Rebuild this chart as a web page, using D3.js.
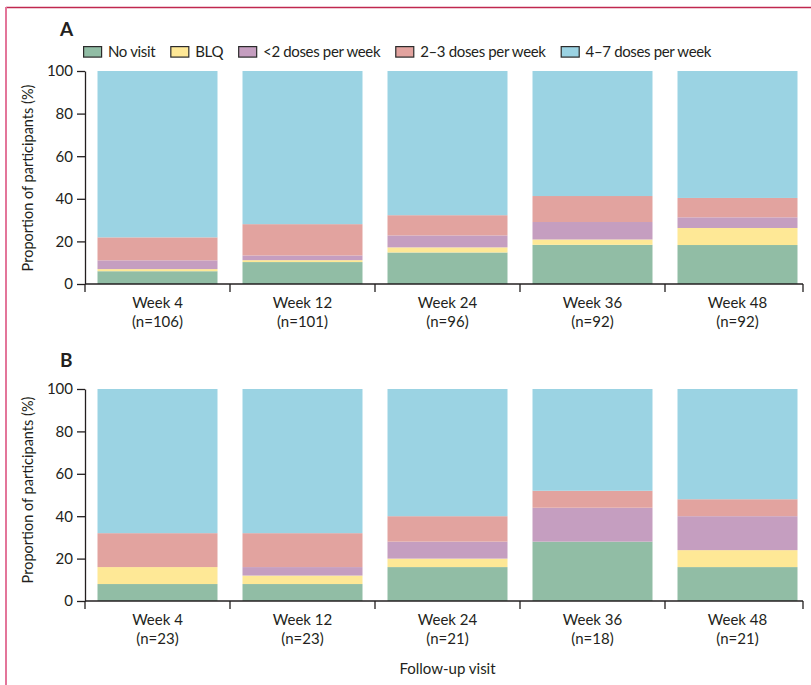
<!DOCTYPE html>
<html>
<head>
<meta charset="utf-8">
<script src="https://cdn.jsdelivr.net/npm/d3@7/dist/d3.min.js"></script>
<style>
  html, body { margin: 0; padding: 0; background: #fff; }
  svg { display: block; font-family: Lato, "Noto Sans", sans-serif; }
</style>
</head>
<body>
<svg id="chart" width="811" height="685"></svg>
<script>
// Follow-up visits and participant counts
const weeks = ["Week 4", "Week 12", "Week 24", "Week 36", "Week 48"];
const countsA = ["(n=106)", "(n=101)", "(n=96)", "(n=92)", "(n=92)"];
const countsB = ["(n=23)", "(n=23)", "(n=21)", "(n=18)", "(n=21)"];

// Adherence categories (stacked bottom to top)
const categories = ["No visit", "BLQ", "<2 doses per week", "2–3 doses per week", "4–7 doses per week"];
const colors = ["#91bda5", "#fee896", "#c59ec0", "#e2a39f", "#9bd3e3"];

// Panel A, % of participants per visit
const noVisitA = [6.0, 10.3, 14.8, 18.4, 18.3];
const blqA     = [1.0, 0.9, 2.4, 2.5, 8.0];
const lt2A     = [4.1, 2.2, 5.6, 8.2, 5.0];
const d23A     = [10.8, 14.7, 9.5, 12.2, 9.1];
const d47A     = [78.1, 71.9, 67.7, 58.7, 59.6];

// Panel B, % of participants per visit
const noVisitB = [8, 8, 16, 28, 16];
const blqB     = [8, 4, 4, 0, 8];
const lt2B     = [0, 4, 8, 16, 16];
const d23B     = [16, 16, 12, 8, 8];
const d47B     = [68, 68, 60, 48, 52];

const yTicks = [0, 20, 40, 60, 80, 100];

const svg = d3.select("#chart");
const ink = "#231f20";

// frame rules
svg.append("line").attr("x1", 6).attr("x2", 811).attr("y1", 7.5).attr("y2", 7.5)
  .attr("stroke", "#c0284f").attr("stroke-width", 1.5);
svg.append("line").attr("x1", 6).attr("x2", 6).attr("y1", 7).attr("y2", 685)
  .attr("stroke", "#e3759a").attr("stroke-width", 2);

const panels = [
  { key: "A", top: 71, bottom: 284, counts: countsA, titleY: 178, letterY: 36,
    series: [noVisitA, blqA, lt2A, d23A, d47A] },
  { key: "B", top: 389, bottom: 601, counts: countsB, titleY: 490, letterY: 367,
    series: [noVisitB, blqB, lt2B, d23B, d47B] }
];

const plotLeft = 85, plotRight = 810, axisEnd = 803;

panels.forEach(p => {
  const g = svg.append("g");
  const x = d3.scaleBand(weeks, [plotLeft, plotRight]).paddingInner(0.1724).paddingOuter(0.0862);
  const y = d3.scaleLinear([0, 100], [p.bottom, p.top]);

  const rows = weeks.map((w, i) => {
    const r = { week: w };
    categories.forEach((c, k) => { r[c] = p.series[k][i]; });
    return r;
  });
  const stacked = d3.stack().keys(categories)(rows);

  g.selectAll("g.layer").data(stacked).join("g")
    .attr("class", "layer")
    .attr("fill", (d, k) => colors[k])
    .selectAll("rect").data(d => d).join("rect")
      .attr("x", d => x(d.data.week))
      .attr("width", x.bandwidth())
      .attr("y", d => y(d[1]))
      .attr("height", d => y(d[0]) - y(d[1]));

  // y axis
  const yAxis = g.append("g").attr("transform", `translate(${plotLeft},0)`)
    .call(d3.axisLeft(y).tickValues(yTicks).tickSize(8).tickSizeOuter(0).tickPadding(4));
  yAxis.select(".domain").attr("stroke", ink).attr("stroke-width", 1.3);
  yAxis.selectAll(".tick line").attr("stroke", ink).attr("stroke-width", 1.3);
  yAxis.selectAll(".tick text").attr("fill", ink).attr("font-size", 15)
    .attr("font-family", "Lato, 'Noto Sans', sans-serif");

  // x axis with ticks between visits
  const y0 = y(0);
  g.append("line").attr("x1", plotLeft).attr("x2", axisEnd).attr("y1", y0).attr("y2", y0)
    .attr("stroke", ink).attr("stroke-width", 1.3);
  const half = x.step() * x.paddingInner() / 2;
  const bounds = weeks.map(w => x(w) - half).concat([axisEnd]);
  g.selectAll("line.xtick").data(bounds).join("line")
    .attr("class", "xtick")
    .attr("x1", d => d).attr("x2", d => d)
    .attr("y1", y0).attr("y2", y0 + 8)
    .attr("stroke", ink).attr("stroke-width", 1.3);

  const labels = g.selectAll("g.xlab").data(weeks).join("g")
    .attr("class", "xlab")
    .attr("transform", w => `translate(${x(w) + x.bandwidth() / 2},${y0})`);
  labels.append("text").attr("y", 24).attr("text-anchor", "middle")
    .attr("font-size", 15).attr("fill", ink).text(w => w);
  labels.append("text").attr("y", 43).attr("text-anchor", "middle")
    .attr("font-size", 15).attr("fill", ink).text((w, i) => p.counts[i]);

  // y title
  g.append("text")
    .attr("transform", `translate(33,${p.titleY}) rotate(-90)`)
    .attr("text-anchor", "middle").attr("font-size", 14.5).attr("fill", ink)
    .text("Proportion of participants (%)");

  // panel letter
  g.append("text").attr("x", 60).attr("y", p.letterY)
    .attr("font-size", 19).attr("font-weight", "bold").attr("fill", ink)
    .text(p.key);
});

// legend
const legend = svg.append("g").attr("transform", "translate(83,46)");
let lx = 0;
categories.forEach((c, k) => {
  const item = legend.append("g").attr("transform", `translate(${lx},0)`);
  item.append("rect").attr("x", 0.6).attr("y", 0.6).attr("width", 18).attr("height", 10.5)
    .attr("fill", colors[k]).attr("stroke", "#2b2b2b").attr("stroke-width", 1.2);
  const t = item.append("text").attr("x", 25).attr("y", 11.3)
    .attr("font-size", 15).attr("letter-spacing", -0.35).attr("fill", ink).text(c);
  lx += 25 + t.node().getComputedTextLength() + 15;
});

// shared x title
svg.append("text").attr("x", (plotLeft + plotRight) / 2).attr("y", 674)
  .attr("text-anchor", "middle").attr("font-size", 15).attr("fill", ink)
  .text("Follow-up visit");
</script>
</body>
</html>
